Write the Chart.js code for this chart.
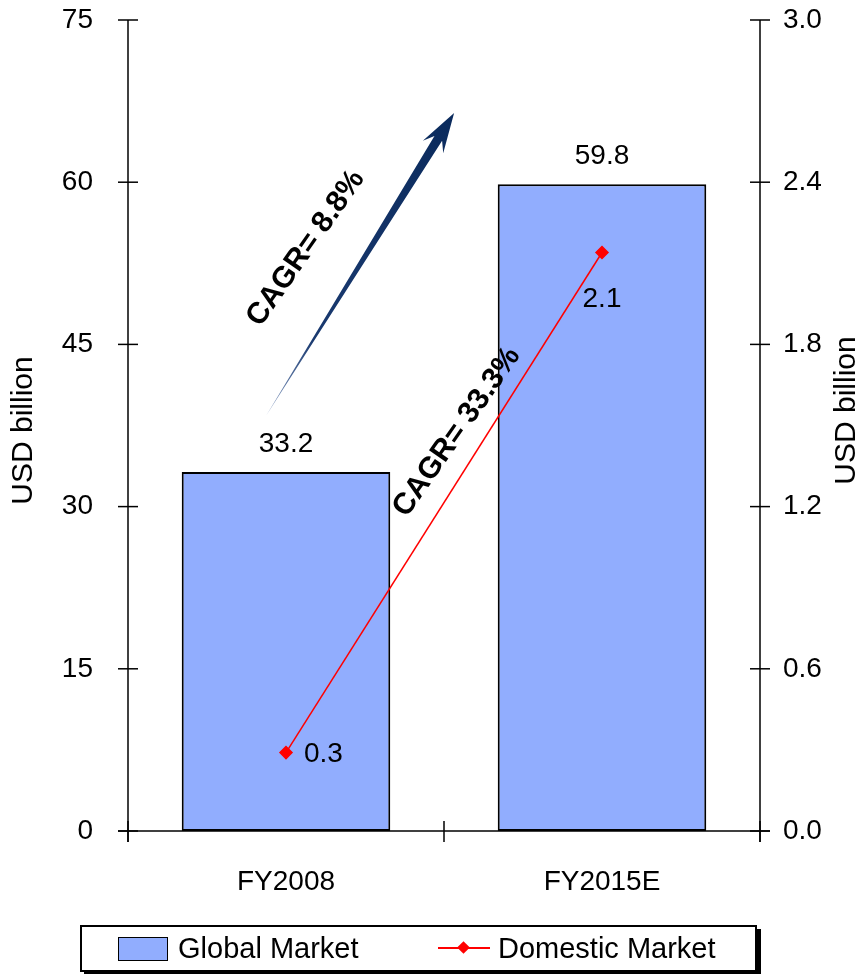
<!DOCTYPE html>
<html>
<head>
<meta charset="utf-8">
<script src="https://cdn.jsdelivr.net/npm/chart.js@4.4.0/dist/chart.umd.min.js"></script>
<style>
  body { margin: 0; background: #fff; font-family: "Liberation Sans", Arial, sans-serif; }
  #wrap { position: relative; width: 863px; height: 974px; }
  #legend { position: absolute; left: 80px; top: 925px; width: 673px; height: 43px;
    border: 2px solid #000; box-shadow: 4px 4px 0 #000; background: #fff; font-size: 29px; color: #000; }
  #legend .swatch { position: absolute; left: 36px; top: 10px; width: 48px; height: 22px;
    background: #91adfe; border: 1px solid #000; }
  #legend .txt { position: absolute; top: 4px; line-height: 34px; white-space: nowrap; }
  #legend .ln { position: absolute; left: 356px; top: 20px; width: 52px; height: 2px; background: #ff0000; }
  #legend .dia { position: absolute; left: 377px; top: 16px; width: 9px; height: 9px; background: #ff0000; transform: rotate(45deg); }
</style>
</head>
<body>
<div id="wrap">
  <canvas id="chart" width="863" height="974"></canvas>
  <div id="legend">
    <div class="swatch"></div><div class="txt" style="left:96px">Global Market</div>
    <div class="ln"></div><div class="dia"></div><div class="txt" style="left:416px">Domestic Market</div>
  </div>
</div>
<script>
const categories = ['FY2008', 'FY2015E'];
const globalMarket = [33.2, 59.8];
const domesticMarket = [0.29, 2.14];
const globalLabels = ['33.2', '59.8'];
const domesticLabels = ['0.3', '2.1'];
const leftTicks = [0, 15, 30, 45, 60, 75];
const rightTicks = [0, 0.6, 1.2, 1.8, 2.4, 3.0];
const axisTitle = 'USD billion';
const cagrGlobal = 'CAGR= 8.8%';
const cagrDomestic = 'CAGR= 33.3%';

const FONT = '"Liberation Sans", Arial, sans-serif';

function line(ctx, x1, y1, x2, y2) {
  ctx.beginPath(); ctx.moveTo(x1, y1); ctx.lineTo(x2, y2); ctx.stroke();
}

// vertical scales: fixed width, no extra label padding so the plot spans 20..831
function fitVertical(width) {
  return s => { s.width = width; s.paddingTop = 0; s.paddingBottom = 0; };
}

const decor = {
  id: 'decor',
  afterDatasetsDraw(chart) {
    const ctx = chart.ctx, ca = chart.chartArea;
    const x = chart.scales.x, y = chart.scales.y, y1 = chart.scales.y1;
    ctx.save();
    // axes and tick marks
    ctx.strokeStyle = '#000'; ctx.lineWidth = 1.5;
    line(ctx, ca.left, ca.top, ca.left, ca.bottom + 11);
    line(ctx, ca.right, ca.top, ca.right, ca.bottom + 11);
    line(ctx, ca.left - 10, ca.bottom, ca.right + 10, ca.bottom);
    y.ticks.forEach(t => { const p = y.getPixelForValue(t.value); line(ctx, ca.left - 10, p, ca.left + 10, p); });
    y1.ticks.forEach(t => { const p = y1.getPixelForValue(t.value); line(ctx, ca.right - 10, p, ca.right + 10, p); });
    for (let i = 0; i <= categories.length; i++) {
      const p = x.getPixelForValue(i - 0.5);
      line(ctx, p, ca.bottom - 10, p, ca.bottom + 11);
    }

    // value labels
    ctx.fillStyle = '#000';
    ctx.font = '28px ' + FONT;
    ctx.textAlign = 'center'; ctx.textBaseline = 'middle';
    chart.getDatasetMeta(0).data.forEach((el, i) => ctx.fillText(globalLabels[i], el.x, el.y - 28));
    const pts = chart.getDatasetMeta(1).data;
    ctx.textAlign = 'left';
    ctx.fillText(domesticLabels[0], pts[0].x + 18, pts[0].y + 2);
    ctx.textAlign = 'center';
    ctx.fillText(domesticLabels[1], pts[1].x, pts[1].y + 47);

    // axis titles
    ctx.font = '30px ' + FONT;
    ctx.save(); ctx.translate(24, (ca.top + ca.bottom) / 2 + 5); ctx.rotate(-Math.PI / 2);
    ctx.fillText(axisTitle, 0, 0); ctx.restore();
    ctx.save(); ctx.translate(847, (ca.top + ca.bottom) / 2 - 15); ctx.rotate(-Math.PI / 2);
    ctx.fillText(axisTitle, 0, 0); ctx.restore();

    // growth arrow
    const tx = x.getPixelForValue(-0.063), ty = y.getPixelForValue(38.4);
    const hx = x.getPixelForValue(0.532), hy = y.getPixelForValue(66.4);
    const len = Math.hypot(hx - tx, hy - ty);
    const ux = (hx - tx) / len, uy = (hy - ty) / len, nx = -uy, ny = ux;
    const hl = 40, hw = 12, sw = 4.5, notch = 30;
    const bx = hx - ux * notch, by = hy - uy * notch;
    const grad = ctx.createLinearGradient(tx, ty, hx, hy);
    grad.addColorStop(0, '#8ea3c8'); grad.addColorStop(0.25, '#1a3a70'); grad.addColorStop(1, '#0a2a5c');
    ctx.fillStyle = grad;
    ctx.beginPath();
    ctx.moveTo(tx, ty);
    ctx.lineTo(bx + nx * sw, by + ny * sw);
    ctx.lineTo(hx - ux * hl + nx * hw, hy - uy * hl + ny * hw);
    ctx.lineTo(hx, hy);
    ctx.lineTo(hx - ux * hl - nx * hw, hy - uy * hl - ny * hw);
    ctx.lineTo(bx - nx * sw, by - ny * sw);
    ctx.closePath();
    ctx.fill();

    // CAGR labels
    ctx.fillStyle = '#000';
    ctx.font = 'bold 30px ' + FONT;
    ctx.textAlign = 'center'; ctx.textBaseline = 'middle';
    const ang = -55 * Math.PI / 180;
    ctx.save(); ctx.translate(x.getPixelForValue(0.063), y.getPixelForValue(53.9)); ctx.rotate(ang);
    ctx.fillText(cagrGlobal, 0, 0); ctx.restore();
    ctx.save(); ctx.translate(x.getPixelForValue(0.541), y.getPixelForValue(36.9)); ctx.rotate(ang);
    ctx.fillText(cagrDomestic, 0, 0); ctx.restore();
    ctx.restore();
  }
};

new Chart(document.getElementById('chart'), {
  data: {
    labels: categories,
    datasets: [{
      type: 'bar',
      label: 'Global Market',
      data: globalMarket,
      yAxisID: 'y',
      backgroundColor: '#91adfe',
      borderColor: '#000',
      borderWidth: 2,
      borderSkipped: false,
      categoryPercentage: 1,
      barPercentage: 0.66,
      order: 1
    }, {
      type: 'line',
      label: 'Domestic Market',
      data: domesticMarket,
      yAxisID: 'y1',
      borderColor: '#ff0000',
      backgroundColor: '#ff0000',
      borderWidth: 1.5,
      pointStyle: 'rectRot',
      pointRadius: 6,
      pointHoverRadius: 6,
      order: 0
    }]
  },
  options: {
    responsive: false,
    animation: false,
    layout: { padding: { top: 20, left: 0, right: 0, bottom: 0 } },
    plugins: { legend: { display: false }, tooltip: { enabled: false } },
    scales: {
      x: {
        grid: { display: false, drawTicks: false },
        border: { display: false },
        ticks: { color: '#000', font: { size: 28, family: FONT }, padding: 34 },
        afterFit: s => { s.height = 143; s.paddingLeft = 0; s.paddingRight = 0; }
      },
      y: {
        position: 'left', min: 0, max: 75,
        grid: { display: false, drawTicks: false },
        border: { display: false },
        ticks: { color: '#000', font: { size: 28, family: FONT }, padding: 35 },
        afterBuildTicks: s => { s.ticks = leftTicks.map(v => ({ value: v })); },
        afterFit: fitVertical(128)
      },
      y1: {
        position: 'right', min: 0, max: 3,
        grid: { display: false, drawTicks: false },
        border: { display: false },
        ticks: { color: '#000', font: { size: 28, family: FONT }, padding: 23, callback: v => Number(v).toFixed(1) },
        afterBuildTicks: s => { s.ticks = rightTicks.map(v => ({ value: v })); },
        afterFit: fitVertical(103)
      }
    }
  },
  plugins: [decor]
});
</script>
</body>
</html>
